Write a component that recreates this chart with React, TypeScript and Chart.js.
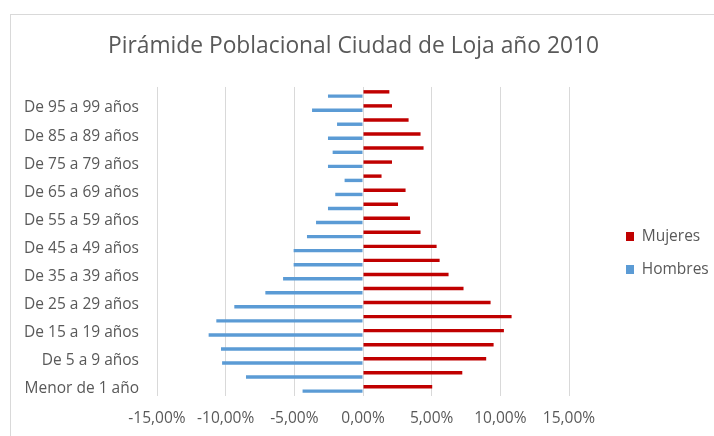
import React, { useEffect, useRef } from "react";
import { Chart, registerables } from "chart.js";

Chart.register(...registerables);

const categories: string[] = [
  "Menor de 1 año",
  "De 1 a 4 años",
  "De 5 a 9 años",
  "De 10 a 14 años",
  "De 15 a 19 años",
  "De 20 a 24 años",
  "De 25 a 29 años",
  "De 30 a 34 años",
  "De 35 a 39 años",
  "De 40 a 44 años",
  "De 45 a 49 años",
  "De 50 a 54 años",
  "De 55 a 59 años",
  "De 60 a 64 años",
  "De 65 a 69 años",
  "De 70 a 74 años",
  "De 75 a 79 años",
  "De 80 a 84 años",
  "De 85 a 89 años",
  "De 90 a 94 años",
  "De 95 a 99 años",
  "De 100 años y más",
];

// percentages
const mujeres: number[] = [
  5.04, 7.23, 8.97, 9.51, 10.26, 10.82, 9.29, 7.32, 6.23, 5.58, 5.36, 4.19,
  3.42, 2.55, 3.1, 1.35, 2.11, 4.41, 4.19, 3.32, 2.11, 1.92,
];
const hombres: number[] = [
  -4.4, -8.52, -10.26, -10.34, -11.24, -10.68, -9.37, -7.11, -5.82, -5.05,
  -5.05, -4.08, -3.42, -2.55, -2.02, -1.34, -2.55, -2.21, -2.55, -1.89, -3.71,
  -2.55,
];

const xMin = -15;
const xMax = 15;
const xStep = 5;

const TEXT = "#595959";
const FONT = "'Open Sans', sans-serif";

export default function App() {
  const ref = useRef<HTMLCanvasElement | null>(null);

  useEffect(() => {
    document.body.style.margin = "0";
    if (!ref.current) return;
    const chart = new Chart(ref.current, {
      type: "bar",
      data: {
        labels: categories,
        datasets: [
          {
            label: "Mujeres",
            data: mujeres,
            backgroundColor: "#C00000",
            borderWidth: 0,
            yAxisID: "y",
            categoryPercentage: 0.61,
            barPercentage: 0.8,
          },
          {
            label: "Hombres",
            data: hombres,
            backgroundColor: "#5B9BD5",
            borderWidth: 0,
            yAxisID: "y",
            categoryPercentage: 0.61,
            barPercentage: 0.8,
          },
        ],
      },
      options: {
        indexAxis: "y",
        animation: false,
        responsive: true,
        maintainAspectRatio: false,
        layout: { padding: { left: -7, right: 0, top: 0, bottom: 8.2 } },
        scales: {
          x: {
            min: xMin,
            max: xMax,
            grid: { color: "#d9d9d9", drawTicks: false, lineWidth: 1 },
            border: { display: false },
            afterFit: (s: any) => {
              s.height = 31.8;
            },
            ticks: {
              stepSize: xStep,
              padding: 13.2,
              color: TEXT,
              font: { family: FONT, size: 15.5 },
              callback: (v: any) => Number(v).toFixed(2).replace(".", ",") + "%",
            },
          },
          y: {
            type: "category",
            reverse: true,
            grid: { display: false, drawTicks: false },
            border: { display: false },
            afterFit: (s: any) => {
              s.width = 164;
            },
            ticks: {
              autoSkip: false,
              padding: 18,
              color: TEXT,
              font: { family: FONT, size: 15.5 },
              callback: (v: any) => (Number(v) % 2 === 0 ? categories[Number(v)] : ""),
            },
          },
          yspace: {
            type: "linear",
            axis: "y",
            position: "right",
            display: true,
            grid: { display: false, drawTicks: false },
            border: { display: false },
            ticks: { display: false },
            afterFit: (s: any) => {
              s.width = 39.5;
            },
          },
        },
        plugins: {
          title: {
            display: true,
            text: "Pirámide Poblacional Ciudad de Loja año 2010",
            color: TEXT,
            font: { family: FONT, size: 22.8, weight: "normal" },
            padding: { top: 33, bottom: 26.6 },
          },
          legend: {
            position: "right",
            align: "center",
            fullSize: false,
            maxWidth: 105.5,
            title: {
              display: true,
              text: " ",
              font: { size: 10 },
              padding: 5.5,
            },
            labels: {
              boxWidth: 8,
              boxHeight: 9,
              padding: 17.5,
              color: TEXT,
              font: { family: FONT, size: 15.5 },
            },
          },
          tooltip: { enabled: false },
        },
      },
    });
    return () => chart.destroy();
  }, []);

  return (
    <div style={{ position: "relative", width: 714, height: 436, overflow: "hidden", background: "#fff" }}>
      <div
        style={{
          position: "absolute",
          left: 10,
          top: 14,
          width: 800,
          height: 600,
          border: "1px solid #d9d9d9",
        }}
      />
      <div style={{ position: "absolute", left: 0, top: 0, width: 714, height: 436 }}>
        <canvas ref={ref} />
      </div>
    </div>
  );
}
